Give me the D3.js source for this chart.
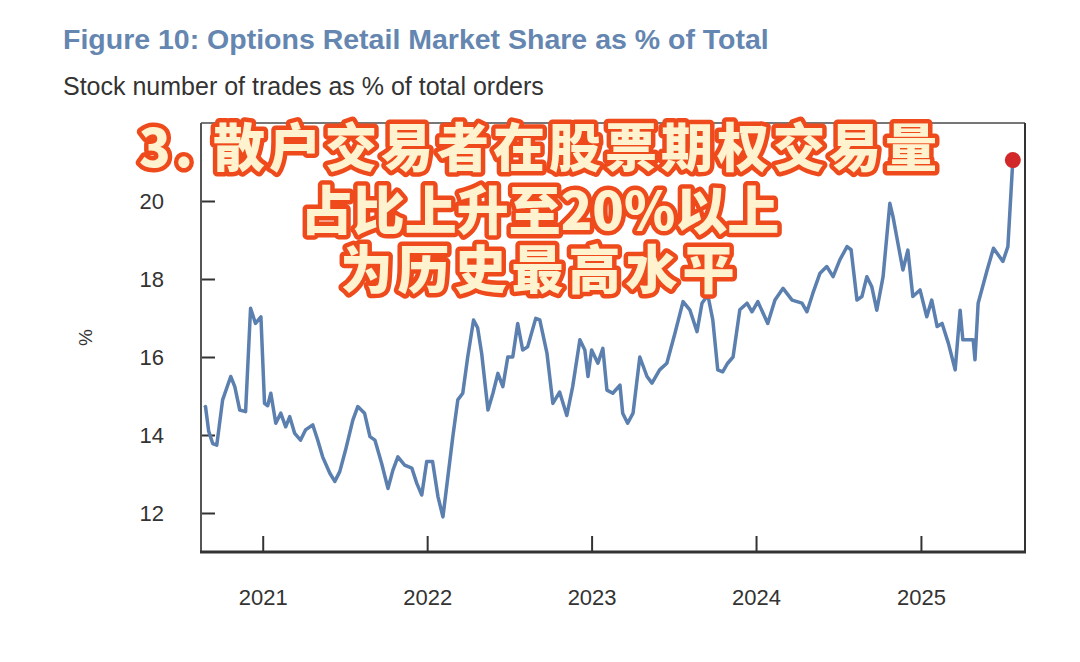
<!DOCTYPE html>
<html>
<head>
<meta charset="utf-8">
<script src="https://cdn.jsdelivr.net/npm/d3@7"></script>
<style>
  body { margin: 0; background: #fff; }
  svg { display: block; }
</style>
</head>
<body>
<svg id="chart" width="1080" height="662"></svg>
<script>
// Data (weekly-ish, irregular spacing)
var dates = [
  "2020-08-25", "2020-08-27", "2020-09-03", "2020-09-12", "2020-09-21", "2020-10-04",
  "2020-10-22", "2020-10-31", "2020-11-11", "2020-11-24", "2020-12-05", "2020-12-16",
  "2020-12-28", "2021-01-05", "2021-01-12", "2021-01-19", "2021-01-30", "2021-02-10",
  "2021-02-21", "2021-03-02", "2021-03-13", "2021-03-26", "2021-04-06", "2021-04-22",
  "2021-05-03", "2021-05-14", "2021-05-30", "2021-06-10", "2021-06-21", "2021-07-04",
  "2021-07-20", "2021-07-31", "2021-08-15", "2021-08-27", "2021-09-07", "2021-09-22",
  "2021-10-06", "2021-10-17", "2021-10-28", "2021-11-12", "2021-11-28", "2021-12-09",
  "2021-12-20", "2021-12-31", "2022-01-13", "2022-01-25", "2022-02-05", "2022-02-16",
  "2022-02-27", "2022-03-10", "2022-03-21", "2022-04-01", "2022-04-14", "2022-04-23",
  "2022-05-02", "2022-05-16", "2022-05-27", "2022-06-07", "2022-06-18", "2022-06-29",
  "2022-07-10", "2022-07-21", "2022-08-01", "2022-08-12", "2022-08-30", "2022-09-08",
  "2022-09-24", "2022-10-07", "2022-10-22", "2022-11-07", "2022-11-20", "2022-12-06",
  "2022-12-17", "2022-12-24", "2023-01-01", "2023-01-15", "2023-01-26", "2023-02-04",
  "2023-02-17", "2023-03-05", "2023-03-11", "2023-03-22", "2023-04-03", "2023-04-18",
  "2023-05-04", "2023-05-15", "2023-06-01", "2023-06-17", "2023-07-05", "2023-07-23",
  "2023-08-07", "2023-08-23", "2023-09-03", "2023-09-16", "2023-09-27", "2023-10-08",
  "2023-10-19", "2023-10-30", "2023-11-11", "2023-11-26", "2023-12-12", "2023-12-23",
  "2024-01-05", "2024-01-27", "2024-02-12", "2024-03-01", "2024-03-21", "2024-04-12",
  "2024-04-23", "2024-05-06", "2024-05-22", "2024-06-06", "2024-06-20", "2024-07-05",
  "2024-07-21", "2024-07-30", "2024-08-12", "2024-08-23", "2024-09-03", "2024-09-14",
  "2024-09-25", "2024-10-09", "2024-10-24", "2024-10-31", "2024-11-11", "2024-11-22",
  "2024-12-03", "2024-12-14", "2024-12-30", "2025-01-14", "2025-01-25", "2025-02-06",
  "2025-02-17", "2025-03-03", "2025-03-18", "2025-03-29", "2025-04-04", "2025-04-27",
  "2025-05-01", "2025-05-08", "2025-05-28", "2025-06-11", "2025-07-02", "2025-07-13",
  "2025-07-24"
];
var shares = [
  14.70, 14.73, 14.10, 13.78, 13.74, 14.90,
  15.50, 15.24, 14.64, 14.60, 17.25, 16.86,
  17.03, 14.81, 14.75, 15.07, 14.30, 14.56,
  14.21, 14.47, 14.04, 13.87, 14.13, 14.26,
  13.87, 13.44, 13.02, 12.81, 13.06, 13.62,
  14.38, 14.73, 14.56, 13.96, 13.87, 13.27,
  12.63, 13.10, 13.44, 13.23, 13.15, 12.76,
  12.46, 13.32, 13.32, 12.42, 11.90, 12.93,
  13.96, 14.90, 15.07, 16.00, 16.95, 16.75,
  16.09, 14.64, 15.07, 15.58, 15.24, 16.00,
  16.00, 16.86, 16.18, 16.26, 16.99, 16.95,
  16.09, 14.81, 15.10, 14.50, 15.24, 16.44,
  16.18, 15.50, 16.18, 15.84, 16.22, 15.15,
  15.07, 15.28, 14.56, 14.30, 14.56, 16.00,
  15.50, 15.33, 15.67, 15.84, 16.61, 17.42,
  17.21, 16.65, 17.38, 17.59, 16.95, 15.67,
  15.62, 15.84, 16.00, 17.21, 17.38, 17.16,
  17.42, 16.86, 17.46, 17.76, 17.46, 17.38,
  17.16, 17.63, 18.15, 18.32, 18.06, 18.49,
  18.83, 18.75, 17.46, 17.55, 18.06, 17.80,
  17.20, 18.06, 19.94, 19.60, 18.91, 18.23,
  18.74, 17.55, 17.72, 17.03, 17.46, 16.78,
  16.86, 16.35, 15.67, 17.20, 16.44, 16.44,
  15.93, 17.38, 18.23, 18.79, 18.45, 18.83,
  21.05
];
var yTicks = [12, 14, 16, 18, 20];
var xTickYears = ["2021", "2022", "2023", "2024", "2025"];
var headline = ["3. 散户交易者在股票期权交易量", "占比上升至20%以上", "为历史最高水平"];

var parseDate = d3.timeParse("%Y-%m-%d");
var data = dates.map(function (d, i) { return { date: parseDate(d), value: shares[i] }; });

// plot box
var margin = { top: 123, right: 55, bottom: 110, left: 201 },
  width = 1080 - margin.left - margin.right,
  height = 662 - margin.top - margin.bottom;

var svg = d3.select("#chart");

// titles
svg.append("text")
  .attr("x", 63).attr("y", 49)
  .style("font-family", "Liberation Sans, Arial, sans-serif")
  .style("font-weight", "bold")
  .style("font-size", "28.5px")
  .style("fill", "#6486b0")
  .text("Figure 10: Options Retail Market Share as % of Total");

svg.append("text")
  .attr("x", 63).attr("y", 95)
  .style("font-family", "Liberation Sans, Arial, sans-serif")
  .style("font-size", "25px")
  .style("fill", "#333")
  .text("Stock number of trades as % of total orders");

var g = svg.append("g")
  .attr("transform", "translate(" + margin.left + "," + margin.top + ")");

var x = d3.scaleTime()
  .domain([parseDate("2020-08-17"), parseDate("2025-08-20")])
  .range([0, width]);

var y = d3.scaleLinear()
  .domain([11, 22])
  .range([height, 0]);

var tickFont = function (sel) {
  sel.style("font-family", "Liberation Sans, Arial, sans-serif")
    .style("font-size", "22px")
    .style("fill", "#333");
};

// y axis: ticks pointing inwards
var yAxis = g.append("g")
  .call(d3.axisLeft(y).tickValues(yTicks).tickSize(-14).tickPadding(37).tickFormat(d3.format("d")));
yAxis.select(".domain").remove();
yAxis.selectAll(".tick line").attr("stroke", "#333").attr("stroke-width", 2);
yAxis.selectAll(".tick text").call(tickFont);

// x axis: year ticks pointing inwards
var xAxis = g.append("g")
  .attr("transform", "translate(0," + height + ")")
  .call(d3.axisBottom(x)
    .tickValues(xTickYears.map(function (yr) { return parseDate(yr + "-01-01"); }))
    .tickSize(-16).tickPadding(37).tickFormat(d3.timeFormat("%Y")));
xAxis.select(".domain").remove();
xAxis.selectAll(".tick line").attr("stroke", "#333").attr("stroke-width", 2);
xAxis.selectAll(".tick text").call(tickFont);

// frame
g.append("line").attr("x1", 0).attr("x2", width).attr("y1", 0).attr("y2", 0)
  .attr("stroke", "#777").attr("stroke-width", 2);
g.append("line").attr("x1", width).attr("x2", width).attr("y1", 0).attr("y2", height)
  .attr("stroke", "#333").attr("stroke-width", 2);
g.append("line").attr("x1", 0).attr("x2", 0).attr("y1", 0).attr("y2", height)
  .attr("stroke", "#555").attr("stroke-width", 2);
g.append("line").attr("x1", -1).attr("x2", width + 1).attr("y1", height).attr("y2", height)
  .attr("stroke", "#333").attr("stroke-width", 3);

// y label
svg.append("text")
  .attr("transform", "translate(92," + (margin.top + y(16.5)) + ") rotate(-90)")
  .attr("text-anchor", "middle")
  .style("font-family", "Liberation Sans, Arial, sans-serif")
  .style("font-size", "19px")
  .style("fill", "#333")
  .text("%");

// the series
var line = d3.line()
  .x(function (d) { return x(d.date); })
  .y(function (d) { return y(d.value); });

g.append("path")
  .datum(data)
  .attr("fill", "none")
  .attr("stroke", "#5b7fae")
  .attr("stroke-width", 3.5)
  .attr("stroke-linejoin", "round")
  .attr("d", line);

// latest point
var last = data[data.length - 1];
g.append("circle")
  .attr("cx", x(last.date)).attr("cy", y(last.value))
  .attr("r", 8)
  .style("fill", "#d2282a");

// headline overlay (stroke painted under the cream fill)
var baselines = [167, 230, 289];
var spacing = [4, 0, 5];
headline.forEach(function (t, i) {
  svg.append("text")
    .attr("x", 540).attr("y", baselines[i])
    .attr("text-anchor", "middle")
    .style("font-family", "Noto Sans CJK SC, sans-serif")
    .style("font-weight", 900)
    .style("font-size", "52px")
    .style("letter-spacing", spacing[i] + "px")
    .style("fill", "#fff3cf")
    .style("stroke", "#ee4a1c")
    .style("stroke-width", 9)
    .style("stroke-linejoin", "round")
    .style("paint-order", "stroke")
    .text(t);
});
</script>
</body>
</html>
